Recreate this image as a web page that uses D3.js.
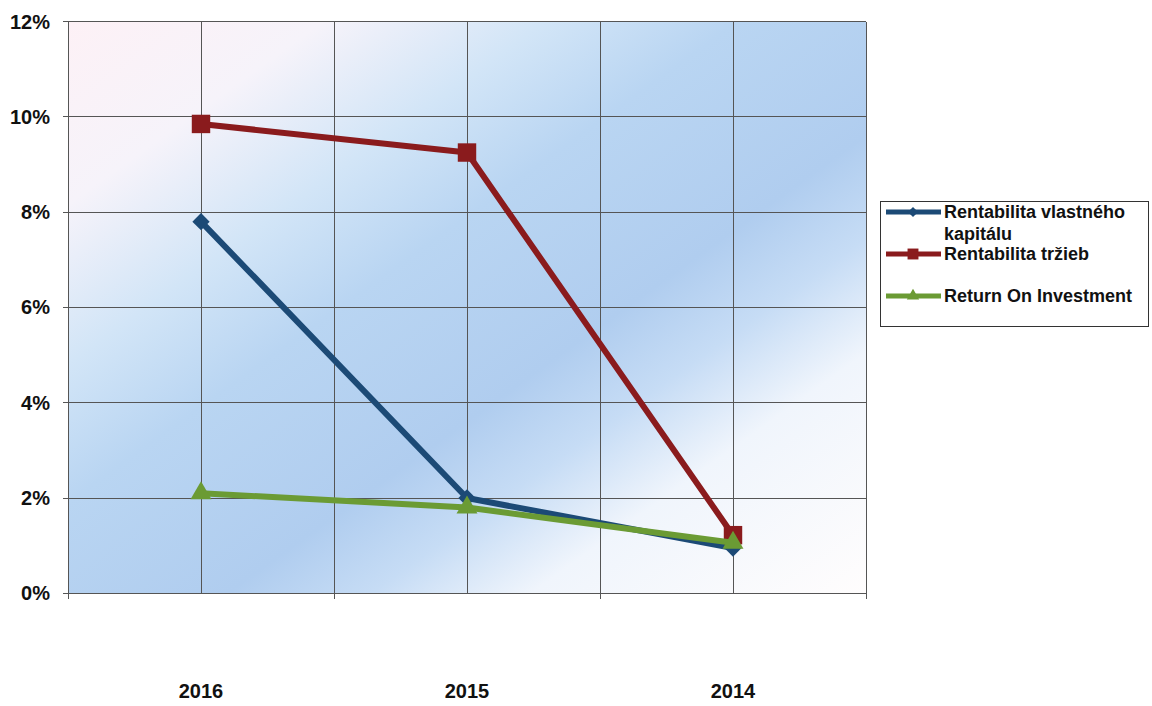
<!DOCTYPE html>
<meta charset="utf-8">
<style>
body { margin: 0; background: #fff; }
text { font-family: "Liberation Sans", Arial, sans-serif; font-weight: bold; fill: #111; }
.grid line { stroke: #555; stroke-width: 1; shape-rendering: crispEdges; }
</style>
<svg width="1152" height="706"></svg>
<script src="https://cdn.jsdelivr.net/npm/d3@7"></script>
<script>

var years = ["2016", "2015", "2014"];
var roe = [0.078, 0.020, 0.0095];   // Rentabilita vlastného kapitálu
var ros = [0.0985, 0.0925, 0.0122]; // Rentabilita tržieb
var roi = [0.021, 0.018, 0.0106];   // Return On Investment
var yTicks = [0, 0.02, 0.04, 0.06, 0.08, 0.10, 0.12];

var series = [
  {name: ["Rentabilita vlastného", "kapitálu"], values: roe, color: "#1c4a76", symbol: d3.symbolDiamond2 || d3.symbolDiamond, size: 190},
  {name: ["Rentabilita tržieb"], values: ros, color: "#8a1b1d", symbol: d3.symbolSquare, size: 340},
  {name: ["Return On Investment"], values: roi, color: "#6b9b34", symbol: d3.symbolTriangle, size: 190}
];

var svg = d3.select("svg"),
    pLeft = 68, pRight = 866, pTop = 21.5, pBottom = 593.3;

var x = d3.scaleBand().domain(years).range([pLeft, pRight]).padding(0),
    y = d3.scaleLinear().domain([0, 0.12]).range([pBottom, pTop]);
var cx = function(i) { return x(years[i]) + x.bandwidth() / 2; };

// plot background
var grad = svg.append("defs").append("linearGradient")
    .attr("id", "bg")
    .attr("x1", 0).attr("y1", 0).attr("x2", 1).attr("y2", 1);
[[0, "#fdf1f6"], [0.16, "#f6f3fa"], [0.3, "#d2e5f7"], [0.42, "#b9d5f2"],
 [0.6, "#b0cdef"], [0.69, "#c6dcf5"], [0.79, "#f0f5fc"], [1, "#fffdfd"]].forEach(function(s) {
  grad.append("stop").attr("offset", s[0]).attr("stop-color", s[1]);
});
svg.append("rect")
    .attr("x", pLeft).attr("y", pTop)
    .attr("width", pRight - pLeft).attr("height", pBottom - pTop)
    .attr("fill", "url(#bg)");

// grid
var grid = svg.append("g").attr("class", "grid");
grid.selectAll(".h").data(yTicks).enter().append("line")
    .attr("x1", pLeft - 5).attr("x2", pRight)
    .attr("y1", function(d) { return y(d); }).attr("y2", function(d) { return y(d); });
var vx = years.map(function(d) { return x(d); }).concat([pRight]);
grid.selectAll(".b").data(vx).enter().append("line")
    .attr("x1", function(d) { return d; }).attr("x2", function(d) { return d; })
    .attr("y1", pTop).attr("y2", pBottom + 6);
grid.selectAll(".c").data(years).enter().append("line")
    .attr("x1", function(d, i) { return cx(i); }).attr("x2", function(d, i) { return cx(i); })
    .attr("y1", pTop).attr("y2", pBottom);

// axis labels
svg.selectAll(".ytick").data(yTicks).enter().append("text")
    .attr("x", 50).attr("y", function(d) { return y(d) + 7; })
    .attr("text-anchor", "end")
    .style("font-size", "20px")
    .text(d3.format(".0%"));

svg.selectAll(".xtick").data(years).enter().append("text")
    .attr("x", function(d, i) { return cx(i); }).attr("y", 698)
    .attr("text-anchor", "middle")
    .style("font-size", "20px")
    .text(function(d) { return d; });

// lines
var line = d3.line()
    .x(function(d, i) { return cx(i); })
    .y(function(d) { return y(d); });

series.forEach(function(s) {
  var g = svg.append("g");
  g.append("path")
      .attr("d", line(s.values))
      .attr("fill", "none")
      .attr("stroke", s.color)
      .attr("stroke-width", 6)
      .attr("stroke-linejoin", "round");
  g.selectAll("path.m").data(s.values).enter().append("path")
      .attr("class", "m")
      .attr("transform", function(d, i) { return "translate(" + cx(i) + "," + y(d) + ")"; })
      .attr("d", d3.symbol().type(s.symbol).size(s.size))
      .attr("fill", s.color);
});

// legend
var lg = svg.append("g");
lg.append("rect")
    .attr("x", 880.5).attr("y", 201.5).attr("width", 268).attr("height", 125)
    .attr("fill", "#fff").attr("stroke", "#333").attr("stroke-width", 1);
var ly = [212, 254, 296];
series.forEach(function(s, i) {
  lg.append("line")
      .attr("x1", 886).attr("x2", 941)
      .attr("y1", ly[i]).attr("y2", ly[i])
      .attr("stroke", s.color).attr("stroke-width", 5);
  lg.append("path")
      .attr("transform", "translate(913," + ly[i] + ")")
      .attr("d", d3.symbol().type(s.symbol).size(s.size * 0.35))
      .attr("fill", s.color);
  s.name.forEach(function(t, j) {
    lg.append("text")
        .attr("x", 944).attr("y", ly[i] + 6 + j * 22)
        .style("font-size", "18px")
        .text(t);
  });
});

</script>
